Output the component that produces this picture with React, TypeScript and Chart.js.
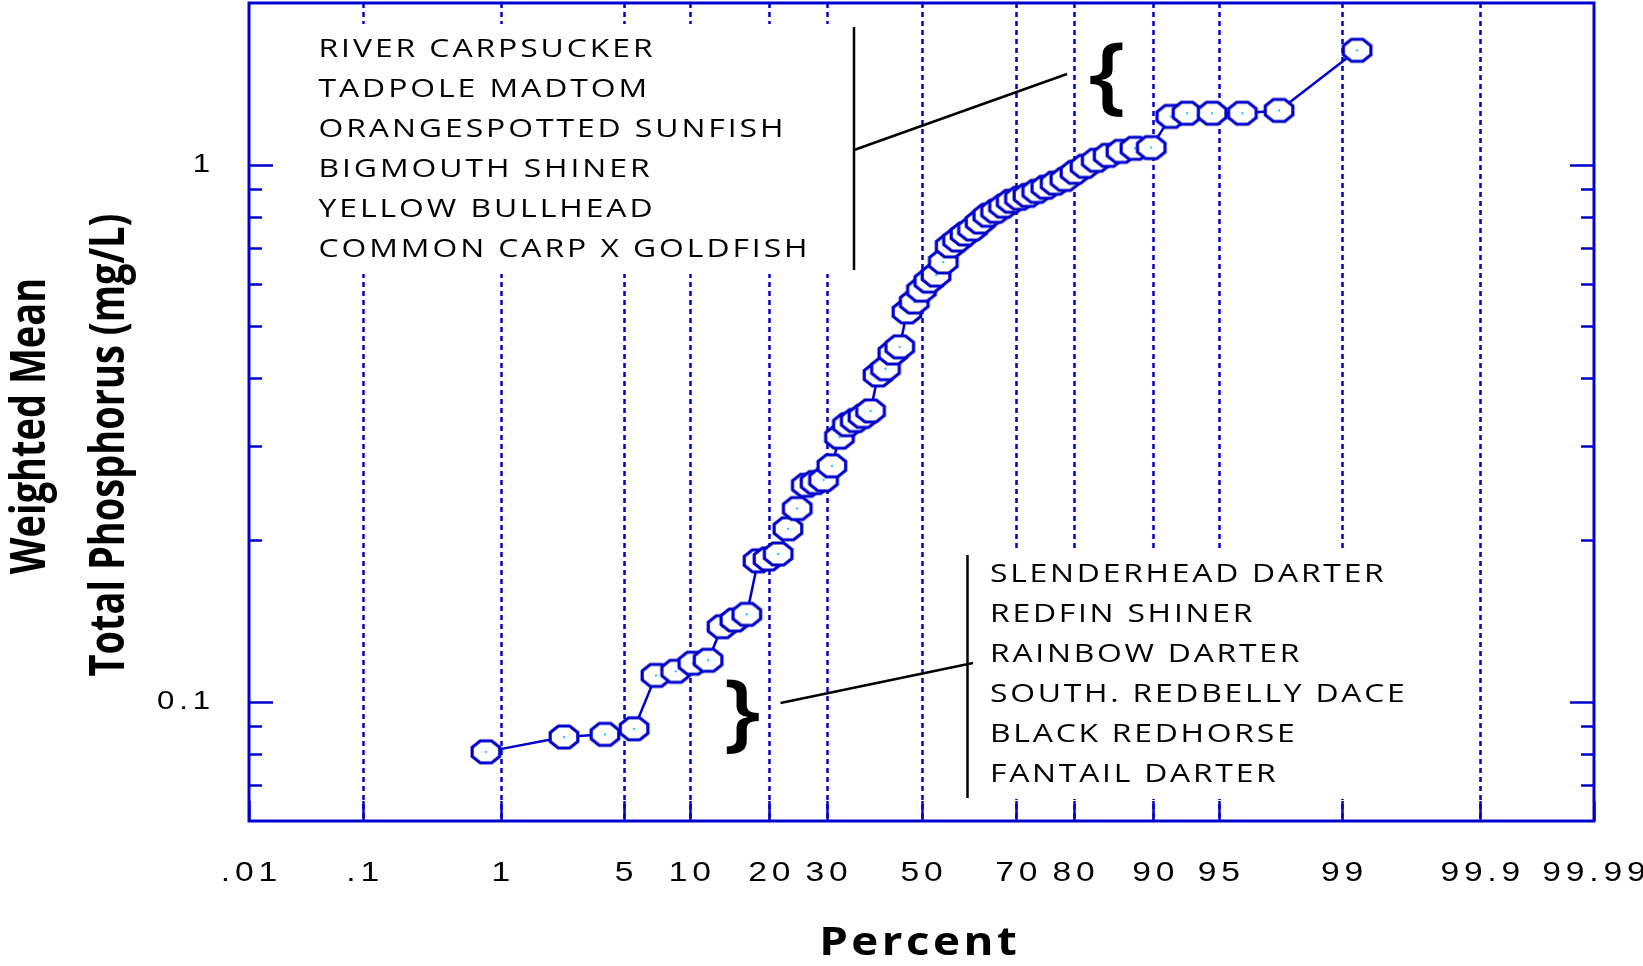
import React, { useEffect, useRef } from 'react';
import { Chart, registerables, LinearScale } from 'chart.js';

Chart.register(...registerables);

// Probability-axis ticks (percent) and their printed labels
const X_TICKS = [0.01, 0.1, 1, 5, 10, 20, 30, 50, 70, 80, 90, 95, 99, 99.9, 99.99];
const X_TICK_LABELS = ['.01', '.1', '1', '5', '10', '20', '30', '50', '70', '80', '90', '95', '99', '99.9', '99.99'];

// Log-axis ticks (mg/L)
const Y_MAJOR = [0.1, 1];
const Y_MAJOR_LABELS = ['0.1', '1'];
const Y_MINOR = [0.07, 0.08, 0.09, 0.2, 0.3, 0.4, 0.5, 0.6, 0.7, 0.8, 0.9];

// Cumulative percent of each species
const PERCENT = [
  0.8, 2.4, 4.0, 5.6, 7.1, 8.7, 10.3, 11.9, 13.5, 15.1, 16.7, 18.3, 19.8, 21.4, 23.0, 24.6,
  26.2, 27.8, 29.4, 31.0, 32.5, 34.1, 35.7, 37.3, 38.9, 40.5, 42.1, 43.7, 45.2, 46.8, 48.4,
  50.0, 51.6, 53.2, 54.8, 56.3, 57.9, 59.5, 61.1, 62.7, 64.3, 65.9, 67.5, 69.0, 70.6, 72.2,
  73.8, 75.4, 77.0, 78.6, 80.2, 81.7, 83.3, 84.9, 86.5, 88.1, 89.8, 91.6, 92.9, 94.6, 96.2,
  97.6, 99.2,
];

// Weighted mean total phosphorus (mg/L)
const PHOSPHORUS = [
  0.0807, 0.086, 0.087, 0.0891, 0.112, 0.114, 0.118, 0.1195, 0.138, 0.142, 0.1455, 0.183,
  0.1845, 0.1885, 0.21, 0.229, 0.253, 0.256, 0.259, 0.275, 0.311, 0.328, 0.334, 0.34, 0.348,
  0.406, 0.417, 0.446, 0.458, 0.532, 0.555, 0.584, 0.607, 0.623, 0.659, 0.706, 0.724, 0.743,
  0.759, 0.782, 0.805, 0.819, 0.837, 0.855, 0.866, 0.877, 0.892, 0.908, 0.924, 0.939, 0.968,
  0.993, 1.019, 1.041, 1.059, 1.073, 1.076, 1.23, 1.247, 1.247, 1.247, 1.262, 1.633,
];

const UPPER_SPECIES = [
  'RIVER CARPSUCKER',
  'TADPOLE MADTOM',
  'ORANGESPOTTED SUNFISH',
  'BIGMOUTH SHINER',
  'YELLOW BULLHEAD',
  'COMMON CARP X GOLDFISH',
];
const LOWER_SPECIES = [
  'SLENDERHEAD DARTER',
  'REDFIN SHINER',
  'RAINBOW DARTER',
  'SOUTH. REDBELLY DACE',
  'BLACK REDHORSE',
  'FANTAIL DARTER',
];

const X_TITLE = 'Percent';
const Y_TITLE = ['Weighted Mean', 'Total Phosphorus (mg/L)'];

const BLUE = '#0000CC';
const INK = '#000000';

// Inverse of the standard normal CDF (Acklam's rational approximation)
function probit(p: number): number {
  const a = [-39.69683028665376, 220.9460984245205, -275.9285104469687, 138.357751867269, -30.66479806614716, 2.506628277459239];
  const b = [-54.47609879822406, 161.5858368580409, -155.6989798598866, 66.80131188771972, -13.28068155288572];
  const c = [-0.007784894002430293, -0.3223964580411365, -2.400758277161838, -2.549732539343734, 4.374664141464968, 2.938163982698783];
  const d = [0.007784695709041462, 0.3224671290700398, 2.445134137142996, 3.754408661907416];
  const lo = 0.02425;
  if (p < lo) {
    const q = Math.sqrt(-2 * Math.log(p));
    return (((((c[0] * q + c[1]) * q + c[2]) * q + c[3]) * q + c[4]) * q + c[5]) / ((((d[0] * q + d[1]) * q + d[2]) * q + d[3]) * q + 1);
  }
  if (p <= 1 - lo) {
    const q = p - 0.5;
    const r = q * q;
    return ((((((a[0] * r + a[1]) * r + a[2]) * r + a[3]) * r + a[4]) * r + a[5]) * q) / (((((b[0] * r + b[1]) * r + b[2]) * r + b[3]) * r + b[4]) * r + 1);
  }
  const q = Math.sqrt(-2 * Math.log(1 - p));
  return -(((((c[0] * q + c[1]) * q + c[2]) * q + c[3]) * q + c[4]) * q + c[5]) / ((((d[0] * q + d[1]) * q + d[2]) * q + d[3]) * q + 1);
}

function normCdf(z: number): number {
  const t = 1 / (1 + 0.2316419 * Math.abs(z));
  const poly = t * (0.31938153 + t * (-0.356563782 + t * (1.781477937 + t * (-1.821255978 + t * 1.330274429))));
  const v = 1 - (Math.exp(-z * z / 2) / Math.sqrt(2 * Math.PI)) * poly;
  return z >= 0 ? v : 1 - v;
}

// Normal-probability axis: values are percents, spacing follows the normal quantile
class ProbabilityScale extends LinearScale {
  static id = 'probability';
  static defaults = { ticks: { callback: (v: number) => String(v) } };

  getPixelForValue(value: number) {
    const lo = probit(this.min / 100);
    const hi = probit(this.max / 100);
    return this.getPixelForDecimal((probit(value / 100) - lo) / (hi - lo));
  }

  getValueForPixel(pixel: number) {
    const lo = probit(this.min / 100);
    const hi = probit(this.max / 100);
    return 100 * normCdf(lo + this.getDecimalForPixel(pixel) * (hi - lo));
  }
}
Chart.register(ProbabilityScale as any);

function makeMarker(): HTMLCanvasElement {
  const w = 34;
  const h = 30;
  const c = document.createElement('canvas');
  c.width = w;
  c.height = h;
  const g = c.getContext('2d')!;
  const cx = w / 2;
  const cy = h / 2;
  const rx = 13.8;
  const ry = 11;
  const k = 1 / Math.cos(Math.PI / 8);
  g.beginPath();
  for (let i = 0; i < 8; i++) {
    const t = Math.PI / 8 + (i * Math.PI) / 4;
    const px = cx + rx * k * Math.cos(t);
    const py = cy + ry * k * Math.sin(t);
    if (i === 0) g.moveTo(px, py);
    else g.lineTo(px, py);
  }
  g.closePath();
  g.fillStyle = '#ffffff';
  g.fill();
  g.lineWidth = 3.2;
  g.strokeStyle = BLUE;
  g.stroke();
  g.fillStyle = '#19C8FF';
  g.fillRect(cx - 1, cy - 1, 2, 2);
  return c;
}

type TextOpts = { font: string; spacing: number; sx: number; align: 'left' | 'center' | 'right'; color: string };

// Horizontally stretched, letter-spaced text
function drawText(ctx: CanvasRenderingContext2D, text: string, x: number, y: number, o: TextOpts) {
  ctx.save();
  ctx.font = o.font;
  (ctx as any).letterSpacing = `${o.spacing}px`;
  ctx.fillStyle = o.color;
  ctx.textBaseline = 'middle';
  ctx.textAlign = 'left';
  const w = ctx.measureText(text).width - o.spacing;
  ctx.translate(x, y);
  ctx.scale(o.sx, 1);
  const start = o.align === 'center' ? -w / 2 : o.align === 'right' ? -w : 0;
  ctx.fillText(text, start, 0);
  ctx.restore();
}

function drawVerticalText(ctx: CanvasRenderingContext2D, text: string, x: number, y: number, font: string, stretch: number) {
  ctx.save();
  ctx.font = font;
  ctx.fillStyle = INK;
  ctx.textBaseline = 'middle';
  ctx.textAlign = 'center';
  ctx.translate(x, y);
  ctx.rotate(-Math.PI / 2);
  ctx.scale(1, stretch);
  ctx.fillText(text, 0, 0);
  ctx.restore();
}

function drawBrace(ctx: CanvasRenderingContext2D, glyph: string, cx: number, cy: number, height: number) {
  ctx.save();
  ctx.font = '600 100px "Open Sans"';
  const m = ctx.measureText(glyph);
  const gh = m.actualBoundingBoxAscent + m.actualBoundingBoxDescent;
  const s = height / gh;
  ctx.translate(cx, cy);
  ctx.scale(s * 1.15, s);
  ctx.fillStyle = INK;
  ctx.textAlign = 'center';
  ctx.textBaseline = 'alphabetic';
  ctx.fillText(glyph, 0, (m.actualBoundingBoxAscent - m.actualBoundingBoxDescent) / 2);
  ctx.restore();
}

function line(ctx: CanvasRenderingContext2D, x1: number, y1: number, x2: number, y2: number) {
  ctx.beginPath();
  ctx.moveTo(x1, y1);
  ctx.lineTo(x2, y2);
  ctx.stroke();
}

const frame = {
  id: 'probabilityFrame',
  beforeDatasetsDraw(chart: any) {
    const { ctx, chartArea: a, scales } = chart;
    const xs = scales.x;
    const ys = scales.y;
    ctx.save();

    // dotted vertical grid at every interior percent tick
    ctx.strokeStyle = BLUE;
    ctx.lineWidth = 2.5;
    ctx.setLineDash([5, 4]);
    X_TICKS.slice(1, -1).forEach((v) => {
      const px = Math.round(xs.getPixelForValue(v)) + 0.5;
      line(ctx, px, a.top, px, a.bottom);
    });
    ctx.setLineDash([]);

    // species call-out panels
    ctx.fillStyle = '#ffffff';
    ctx.fillRect(a.left + 2, 24, 608, 250);
    ctx.fillRect(960, 551, 452, 248);

    const upperFont: TextOpts = { font: '25.5px "Open Sans"', spacing: 2.35, sx: 1.25, align: 'left', color: INK };
    const lowerFont: TextOpts = { font: '25.5px "Open Sans"', spacing: 2.2, sx: 1.25, align: 'left', color: INK };
    UPPER_SPECIES.forEach((s, i) => drawText(ctx, s, 318.5, 50 + i * 40, upperFont));
    LOWER_SPECIES.forEach((s, i) => drawText(ctx, s, 990, 574.5 + i * 40, lowerFont));

    ctx.strokeStyle = INK;
    ctx.lineWidth = 2.5;
    line(ctx, 854, 27, 854, 270);
    line(ctx, 854, 150, 1067, 74);
    line(ctx, 967.5, 555, 967.5, 798);
    line(ctx, 973, 663, 780.5, 703);
    drawBrace(ctx, '{', 1107, 81, 74);
    drawBrace(ctx, '}', 742, 718, 74);

    // plot frame
    ctx.strokeStyle = BLUE;
    ctx.lineWidth = 3;
    ctx.strokeRect(a.left, a.top, a.right - a.left, a.bottom - a.top);

    // inward tick marks
    ctx.lineWidth = 2.5;
    Y_MAJOR.forEach((v) => {
      const py = Math.round(ys.getPixelForValue(v)) + 0.5;
      line(ctx, a.left, py, a.left + 24, py);
      line(ctx, a.right, py, a.right - 24, py);
    });
    Y_MINOR.forEach((v) => {
      const py = Math.round(ys.getPixelForValue(v)) + 0.5;
      line(ctx, a.left, py, a.left + 13, py);
      line(ctx, a.right, py, a.right - 13, py);
    });
    X_TICKS.forEach((v) => {
      const px = Math.round(xs.getPixelForValue(v)) + 0.5;
      line(ctx, px, a.bottom, px, a.bottom - 20);
    });

    // tick labels
    const tickFont: TextOpts = { font: '28px "Liberation Sans"', spacing: 4, sx: 1.2, align: 'center', color: INK };
    X_TICKS.forEach((v, i) => drawText(ctx, X_TICK_LABELS[i], xs.getPixelForValue(v), a.bottom + 52, tickFont));
    const yFont: TextOpts = { font: '26px "Liberation Sans"', spacing: 4, sx: 1.2, align: 'right', color: INK };
    Y_MAJOR.forEach((v, i) => drawText(ctx, Y_MAJOR_LABELS[i], 210, ys.getPixelForValue(v), yFont));

    // axis titles
    drawText(ctx, X_TITLE, 918, 944, { font: 'bold 39px "Open Sans"', spacing: 3, sx: 1.17, align: 'center', color: INK });
    drawVerticalText(ctx, Y_TITLE[0], 31, 426, 'bold 38px "Open Sans"', 1.25);
    drawVerticalText(ctx, Y_TITLE[1], 110, 445, 'bold 38px "Open Sans"', 1.25);

    ctx.restore();
  },
};

export default function App() {
  const ref = useRef<HTMLCanvasElement>(null);

  useEffect(() => {
    document.body.style.margin = '0';
    const marker = makeMarker();
    const chart = new Chart(ref.current!, {
      type: 'scatter',
      data: {
        datasets: [
          {
            data: PERCENT.map((p, i) => ({ x: p, y: PHOSPHORUS[i] })),
            showLine: true,
            borderColor: BLUE,
            borderWidth: 2.5,
            pointStyle: marker as any,
            pointRadius: 12,
            pointHoverRadius: 12,
            clip: false as any,
          },
        ],
      },
      options: {
        animation: false,
        responsive: false,
        devicePixelRatio: 1,
        events: [],
        layout: { autoPadding: false, padding: { top: 3, right: 49, left: 0, bottom: 0 } },
        plugins: { legend: { display: false }, tooltip: { enabled: false } },
        scales: {
          x: {
            type: 'probability' as any,
            min: 0.01,
            max: 99.99,
            grid: { display: false },
            border: { display: false },
            ticks: { display: false },
            afterBuildTicks: (s: any) => {
              s.ticks = X_TICKS.map((v) => ({ value: v }));
            },
            afterFit: (s: any) => {
              s.height = 145;
            },
          },
          y: {
            type: 'logarithmic',
            min: 0.06,
            max: 2,
            grid: { display: false },
            border: { display: false },
            ticks: { display: false },
            afterFit: (s: any) => {
              s.width = 249;
            },
          },
        },
      },
      plugins: [frame],
    });
    return () => chart.destroy();
  }, []);

  return (
    <div style={{ width: 1643, height: 966 }}>
      <canvas ref={ref} width={1643} height={966} style={{ display: 'block' }} />
    </div>
  );
}
